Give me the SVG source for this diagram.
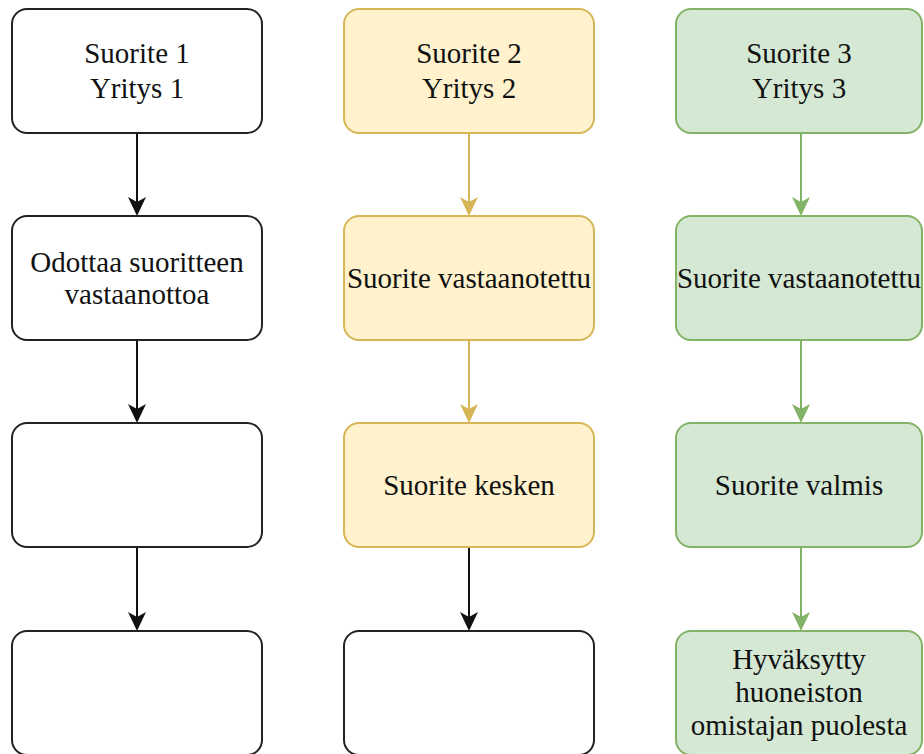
<svg xmlns="http://www.w3.org/2000/svg" width="924" height="754" viewBox="0 0 924 754">
<style>
.box{stroke-width:2}
.w{fill:#ffffff;stroke:#222222}
.y{fill:#fff2cc;stroke:#d6b656}
.g{fill:#d5e8d4;stroke:#82b366}
.t{font-family:'Liberation Serif','DejaVu Serif',serif;font-size:29px;fill:#111111;text-anchor:middle}
.lk{stroke:#111111;stroke-width:2;fill:none}
.ly{stroke:#d6b656;stroke-width:2;fill:none}
.lg{stroke:#82b366;stroke-width:2;fill:none}
.hk{fill:#111111}
.hy{fill:#d6b656}
.hg{fill:#82b366}
</style>
<rect width="924" height="754" fill="#ffffff"/>
<g id="connectors">
<line class="lk" x1="137" y1="133" x2="137" y2="205"/><polygon class="hk" points="137,216 128,197 137,202 146,197"/>
<line class="lk" x1="137" y1="340" x2="137" y2="412"/><polygon class="hk" points="137,423 128,404 137,409 146,404"/>
<line class="lk" x1="137" y1="547" x2="137" y2="620"/><polygon class="hk" points="137,631 128,612 137,617 146,612"/>
<line class="ly" x1="469" y1="133" x2="469" y2="205"/><polygon class="hy" points="469,216 460,197 469,202 478,197"/>
<line class="ly" x1="469" y1="340" x2="469" y2="412"/><polygon class="hy" points="469,423 460,404 469,409 478,404"/>
<line class="lk" x1="469" y1="547" x2="469" y2="620"/><polygon class="hk" points="469,631 460,612 469,617 478,612"/>
<line class="lg" x1="801" y1="133" x2="801" y2="205"/><polygon class="hg" points="801,216 792,197 801,202 810,197"/>
<line class="lg" x1="801" y1="340" x2="801" y2="412"/><polygon class="hg" points="801,423 792,404 801,409 810,404"/>
<line class="lg" x1="801" y1="547" x2="801" y2="620"/><polygon class="hg" points="801,631 792,612 801,617 810,612"/>
</g>
<g id="n1a"><rect class="box w" x="12" y="9" width="250" height="124" rx="15"/><text class="t" x="137" y="63">Suorite 1</text><text class="t" x="137" y="98">Yritys 1</text></g>
<g id="n1b"><rect class="box w" x="12" y="216" width="250" height="124" rx="15"/><text class="t" x="137" y="272">Odottaa suoritteen</text><text class="t" x="137" y="304">vastaanottoa</text></g>
<g id="n1c"><rect class="box w" x="12" y="423" width="250" height="124" rx="15"/></g>
<g id="n1d"><rect class="box w" x="12" y="631" width="250" height="124" rx="15"/></g>
<g id="n2a"><rect class="box y" x="344" y="9" width="250" height="124" rx="15"/><text class="t" x="469" y="63">Suorite 2</text><text class="t" x="469" y="98">Yritys 2</text></g>
<g id="n2b"><rect class="box y" x="344" y="216" width="250" height="124" rx="15"/><text class="t" x="469" y="288">Suorite vastaanotettu</text></g>
<g id="n2c"><rect class="box y" x="344" y="423" width="250" height="124" rx="15"/><text class="t" x="469" y="495">Suorite kesken</text></g>
<g id="n2d"><rect class="box w" x="344" y="631" width="250" height="124" rx="15"/></g>
<g id="n3a"><rect class="box g" x="676" y="9" width="246" height="124" rx="15"/><text class="t" x="799" y="63">Suorite 3</text><text class="t" x="799" y="98">Yritys 3</text></g>
<g id="n3b"><rect class="box g" x="676" y="216" width="246" height="124" rx="15"/><text class="t" x="799" y="288">Suorite vastaanotettu</text></g>
<g id="n3c"><rect class="box g" x="676" y="423" width="246" height="124" rx="15"/><text class="t" x="799" y="495">Suorite valmis</text></g>
<g id="n3d"><rect class="box g" x="676" y="631" width="246" height="124" rx="15"/><text class="t" x="799" y="669">Hyväksytty</text><text class="t" x="799" y="702">huoneiston</text><text class="t" x="799" y="735">omistajan puolesta</text></g>
</svg>
